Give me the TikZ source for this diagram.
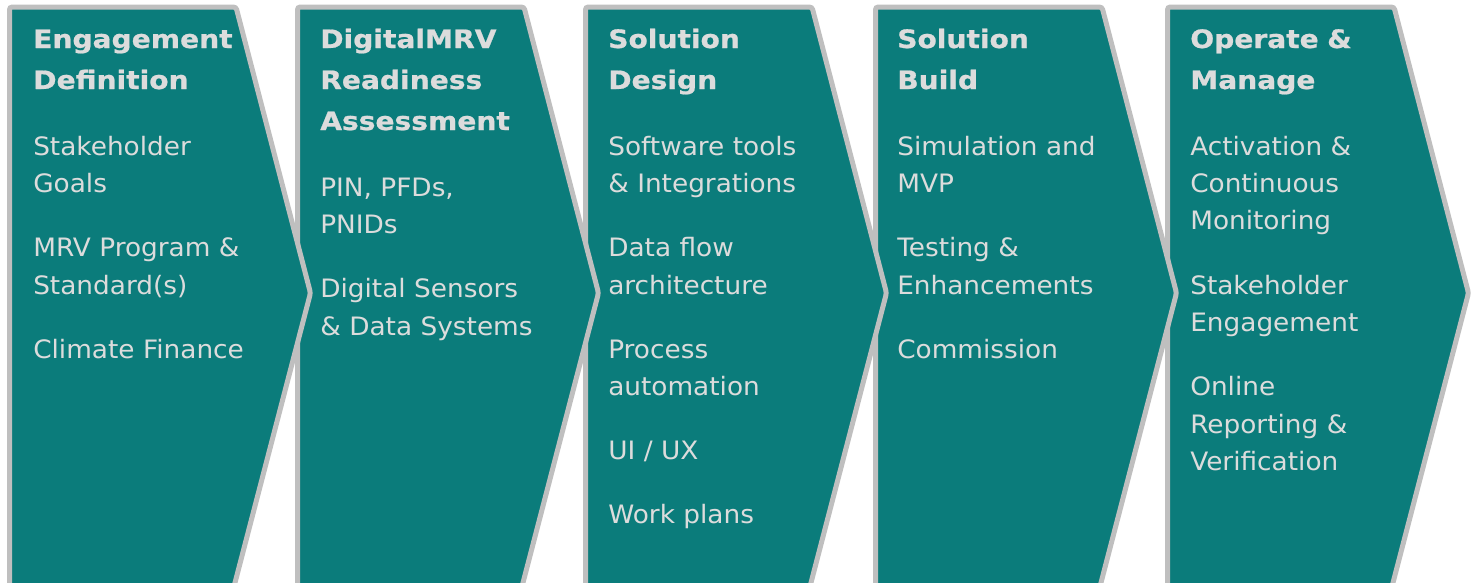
\documentclass[tikz,border=0pt]{standalone}
\usepackage{fontspec}
\setmainfont{DejaVu Sans}[FakeStretch=1.04,BoldFeatures={FakeStretch=1.11,FakeBold=0.8}]

\definecolor{phaseteal}{RGB}{11,124,123}
\definecolor{phasegray}{RGB}{191,191,191}
\definecolor{phasetext}{RGB}{220,220,220}

\begin{document}
\begin{tikzpicture}[x=0.75pt,y=-0.75pt,
    phase/.style={fill=phaseteal,draw=phasegray,line width=3.75pt,rounded corners=2pt},
    heading/.style={anchor=base west,inner sep=0pt,text width=230pt,align=left,
                    text=phasetext,font=\bfseries\fontsize{19}{30.75}\selectfont},
    items/.style={anchor=base west,inner sep=0pt,text width=230pt,align=left,
                  text=phasetext,font=\fontsize{19}{28.1}\selectfont}]
  \useasboundingbox (0,0) rectangle (1481,582);
  \clip (0,0) rectangle (1481,582);

  % chevrons, right one first so each tip lies on the next
  \foreach \lx in {1167.5,875.5,585.5,297.5,9.5}
    \draw[phase] (\lx,7) -- (\lx+226.5,7) -- (\lx+301,293) -- (\lx+221,600)
                 -- (\lx,600) -- cycle;

  \node[heading] (engagement) at (33,48) {Engagement\\Definition};
  \node[items] (engagement_items) at (33,155)
       {Stakeholder\\Goals\\[20pt]MRV Program \&\\Standard(s)\\[20pt]Climate Finance};

  \node[heading] (readiness) at (320,48) {DigitalMRV\\Readiness\\Assessment};
  \node[items] (readiness_items) at (320,196)
       {PIN, PFDs,\\PNIDs\\[20pt]Digital Sensors\\\& Data Systems};

  \node[heading] (design) at (608,48) {Solution\\Design};
  \node[items] (design_items) at (608,155)
       {Software tools\\\& Integrations\\[20pt]Data flow\\architecture\\[20pt]Process\\automation\\[20pt]UI / UX\\[20pt]Work plans};

  \node[heading] (build) at (897,48) {Solution\\Build};
  \node[items] (build_items) at (897,155)
       {Simulation and\\MVP\\[20pt]Testing \&\\Enhancements\\[20pt]Commission};

  \node[heading] (operate) at (1190,48) {Operate \&\\Manage};
  \node[items] (operate_items) at (1190,155)
       {Activation \&\\Continuous\\Monitoring\\[20pt]Stakeholder\\Engagement\\[20pt]Online\\Reporting \&\\Verification};
\end{tikzpicture}
\end{document}
